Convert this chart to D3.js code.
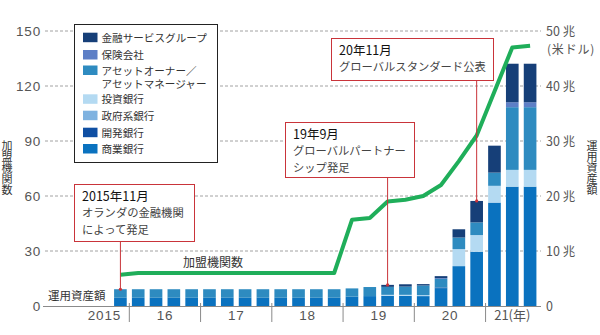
<!DOCTYPE html>
<html lang="ja">
<head>
<meta charset="UTF-8">
<title>加盟機関数と運用資産額</title>
<script src="https://cdnjs.cloudflare.com/ajax/libs/d3/7.8.5/d3.min.js"></script>
<style>
	body { margin: 0; background: #fff; }
	text { font-family: "Noto Sans CJK JP", "Noto Sans", sans-serif; }
	.num { font-family: "Liberation Sans", Arial, sans-serif; letter-spacing: 0.8px; }
	.vert { writing-mode: vertical-rl; }
</style>
</head>
<body>
<svg id="chart" width="600" height="335"></svg>
<script>
// quarters, 2015Q4 .. 2021Q3
var quarters = ["15Q4",
	"16Q1", "16Q2", "16Q3", "16Q4",
	"17Q1", "17Q2", "17Q3", "17Q4",
	"18Q1", "18Q2", "18Q3", "18Q4",
	"19Q1", "19Q2", "19Q3", "19Q4",
	"20Q1", "20Q2", "20Q3", "20Q4",
	"21Q1", "21Q2", "21Q3"];

// 運用資産額 (兆米ドル), by segment
var commercial  = [1.5, 1.5, 1.5, 1.5, 1.5, 1.5, 1.5, 1.5, 1.5, 1.5, 1.5, 1.5, 1.5, 1.7, 1.8, 1.85, 1.85, 1.8, 3.25, 7.25, 9.85, 18.8, 21.7, 21.7];
var development = [0, 0, 0, 0, 0, 0, 0, 0, 0, 0, 0, 0, 0, 0, 0, 0, 0, 0, 0.12, 0, 0, 0, 0, 0];
var government  = [0, 0, 0, 0, 0, 0, 0, 0, 0, 0, 0, 0, 0, 0, 0, 0, 0, 0, 0, 0, 0, 0, 0, 0];
var investment  = [0, 0, 0, 0, 0, 0, 0, 0, 0, 0, 0, 0, 0, 0, 0, 0.18, 0.18, 0.18, 0, 3.1, 3.05, 3.05, 3.05, 3.05];
var assetOwner  = [1.55, 1.55, 1.55, 1.55, 1.55, 1.55, 1.55, 1.55, 1.55, 1.55, 1.55, 1.55, 1.55, 1.5, 1.65, 1.45, 1.5, 1.75, 1.55, 2.1, 2.3, 2.4, 11.4, 11.4];
var insurance   = [0, 0, 0, 0, 0, 0, 0, 0, 0, 0, 0, 0, 0, 0, 0, 0, 0, 0, 0.15, 0, 0, 0, 0.9, 0.9];
var finGroup    = [0, 0, 0, 0, 0, 0, 0, 0, 0, 0, 0, 0, 0, 0, 0, 0.36, 0.42, 0.25, 0.36, 1.5, 3.9, 4.9, 7.0, 7.0];

// 加盟機関数
var members = [17, 18, 18, 18, 18, 18, 18, 18, 18, 18, 18, 18, 18, 47, 48, 57, 58, 60, 66, 79, 93, 117, 141, 142];

var segNames = ["商業銀行", "開発銀行", "政府系銀行", "投資銀行", "アセットオーナー／アセットマネージャー", "保険会社", "金融サービスグループ"];
var segColors = ["#0a72bf", "#0f4fa3", "#7fb2e0", "#b4daf2", "#2e8bc0", "#5d7fc6", "#163f78"];

var leftTicks = [30, 60, 90, 120, 150];
var rightTicks = [0, 10, 20, 30, 40, 50];
var yearLabels = ["2015", "16", "17", "18", "19", "20", "21(年)"];
var yearStart = ["15Q4", "16Q1", "17Q1", "18Q1", "19Q1", "20Q1", "21Q1"];
var yearEnd = ["15Q4", "16Q4", "17Q4", "18Q4", "19Q4", "20Q4", "21Q3"];

var notes = [
	{ q: "15Q4", lines: ["2015年11月", "オランダの金融機関", "によって発足"], box: [74, 184, 120, 57] },
	{ q: "19Q3", lines: ["19年9月", "グローバルパートナー", "シップ発足"], box: [285, 122, 129, 55] },
	{ q: "20Q4", lines: ["20年11月", "グローバルスタンダード公表"], box: [331, 38, 162, 42] }
];

var svg = d3.select("#chart");

var x = d3.scaleBand()
	.domain(quarters)
	.range([111.5, 539])
	.paddingInner(0.29)
	.paddingOuter(0.145);
var yL = d3.scaleLinear().domain([0, 150]).range([306, 31]);
var yR = d3.scaleLinear().domain([0, 50]).range([306, 31]);

// gridlines
svg.append("g")
	.selectAll("line")
	.data(leftTicks)
	.enter()
	.append("line")
	.attr("x1", 45).attr("x2", 541)
	.attr("y1", d => yL(d)).attr("y2", d => yL(d))
	.attr("stroke", "#8a8a8a")
	.attr("stroke-width", 0.8)
	.attr("stroke-dasharray", "3,2");

// left axis labels
var gl = svg.append("g")
	.attr("transform", "translate(41,0)")
	.call(d3.axisLeft(yL).tickValues([0].concat(leftTicks)).tickSize(0).tickPadding(0));
gl.select(".domain").remove();
gl.selectAll("text")
	.attr("class", "num")
	.attr("font-size", 13.5)
	.attr("fill", "#555")
	.attr("dy", "0.36em");

// right axis labels
var gr = svg.append("g")
	.attr("transform", "translate(546,0)")
	.call(d3.axisRight(yR).tickValues(rightTicks).tickSize(0).tickPadding(0)
		.tickFormat(d => d === 0 ? "0" : d + " 兆"));
gr.select(".domain").remove();
gr.selectAll("text")
	.attr("font-size", 12.5)
	.attr("fill", "#555")
	.attr("dy", "0.36em");
svg.append("text")
	.attr("x", 547).attr("y", 54)
	.attr("font-size", 12)
	.attr("letter-spacing", 0.8)
	.attr("fill", "#555")
	.text("(米ドル)");

// stacked bars
var table = quarters.map((q, i) => ({
	q: q,
	s0: commercial[i], s1: development[i], s2: government[i], s3: investment[i],
	s4: assetOwner[i], s5: insurance[i], s6: finGroup[i]
}));
var stack = d3.stack().keys(["s0", "s1", "s2", "s3", "s4", "s5", "s6"])(table);

svg.append("g")
	.selectAll("g")
	.data(stack)
	.enter()
	.append("g")
	.attr("fill", (d, i) => segColors[i])
	.selectAll("rect")
	.data(d => d)
	.enter()
	.append("rect")
	.attr("x", d => x(d.data.q))
	.attr("width", x.bandwidth())
	.attr("y", d => yR(d[1]))
	.attr("height", d => yR(d[0]) - yR(d[1]));

// baseline and year separators
svg.append("line")
	.attr("x1", 43).attr("x2", 541)
	.attr("y1", 306.5).attr("y2", 306.5)
	.attr("stroke", "#8a8a8a").attr("stroke-width", 1);

var step = x.step();
svg.append("g")
	.selectAll("line")
	.data(yearEnd.slice(0, 6))
	.enter()
	.append("line")
	.attr("x1", d => x(d) + x.bandwidth() + (step - x.bandwidth()) / 2)
	.attr("x2", d => x(d) + x.bandwidth() + (step - x.bandwidth()) / 2)
	.attr("y1", 303).attr("y2", 322)
	.attr("stroke", "#8a8a8a").attr("stroke-width", 1);

svg.append("g")
	.selectAll("text")
	.data(yearLabels)
	.enter()
	.append("text")
	.attr("class", (d, i) => i === 6 ? null : "num")
	.attr("x", (d, i) => i === 0 ? 121 : (x(yearStart[i]) + x(yearEnd[i]) + x.bandwidth()) / 2)
	.attr("y", 320)
	.attr("text-anchor", (d, i) => i === 0 ? "end" : "middle")
	.attr("font-size", (d, i) => i === 6 ? 13 : 13.5)
	.attr("fill", "#555")
	.text(d => d);

// member count line
var line = d3.line()
	.x((d, i) => x(quarters[i]) + x.bandwidth() / 2)
	.y(d => yL(d));
svg.append("path")
	.attr("d", line(members))
	.attr("fill", "none")
	.attr("stroke", "#1fae5a")
	.attr("stroke-width", 4)
	.attr("stroke-linejoin", "round");

svg.append("text")
	.attr("x", 213).attr("y", 267)
	.attr("text-anchor", "middle")
	.attr("font-size", 12)
	.attr("fill", "#333")
	.text("加盟機関数");

svg.append("text")
	.attr("x", 48).attr("y", 300)
	.attr("font-size", 11.5)
	.attr("fill", "#333")
	.text("運用資産額");

// legend
var lg = svg.append("g");
lg.append("rect")
	.attr("x", 74.5).attr("y", 24.5)
	.attr("width", 143).attr("height", 138)
	.attr("fill", "#fff").attr("stroke", "#222").attr("stroke-width", 1);
var legendRows = [
	{ i: 6, y: 37.7, lines: ["金融サービスグループ"] },
	{ i: 5, y: 55, lines: ["保険会社"] },
	{ i: 4, y: 70.5, lines: ["アセットオーナー／", "アセットマネージャー"] },
	{ i: 3, y: 99.3, lines: ["投資銀行"] },
	{ i: 2, y: 115.7, lines: ["政府系銀行"] },
	{ i: 1, y: 132.7, lines: ["開発銀行"] },
	{ i: 0, y: 149, lines: ["商業銀行"] }
];
var rows = lg.selectAll("g.row")
	.data(legendRows)
	.enter()
	.append("g")
	.attr("class", "row");
rows.append("rect")
	.attr("x", 83).attr("y", d => d.y - 5)
	.attr("width", 14.5).attr("height", 9.5)
	.attr("fill", d => segColors[d.i]);
rows.selectAll("text")
	.data(d => d.lines.map((t, k) => ({ t: t, y: d.y + 4 + k * 13.2 })))
	.enter()
	.append("text")
	.attr("x", 101.5)
	.attr("y", d => d.y)
	.attr("font-size", 10.6)
	.attr("fill", "#333")
	.text(d => d.t);

// annotations
var ng = svg.append("g")
	.selectAll("g")
	.data(notes)
	.enter()
	.append("g");
ng.append("line")
	.attr("x1", d => x(d.q) + x.bandwidth() / 2)
	.attr("x2", d => x(d.q) + x.bandwidth() / 2)
	.attr("y1", d => d.box[1] + d.box[3])
	.attr("y2", d => {
		var i = quarters.indexOf(d.q);
		return yR(stack[6][i][1]);
	})
	.attr("stroke", "#c9343a").attr("stroke-width", 1);
ng.append("circle")
	.attr("cx", d => x(d.q) + x.bandwidth() / 2)
	.attr("cy", d => yR(stack[6][quarters.indexOf(d.q)][1]))
	.attr("r", 1.6)
	.attr("fill", "#c9343a");
ng.append("rect")
	.attr("x", d => d.box[0] + 0.5).attr("y", d => d.box[1] + 0.5)
	.attr("width", d => d.box[2]).attr("height", d => d.box[3])
	.attr("fill", "#fff").attr("stroke", "#c9343a").attr("stroke-width", 1);
ng.append("text")
	.selectAll("tspan")
	.data(d => d.lines.map((t, k) => ({ t: t, k: k, b: d.box })))
	.enter()
	.append("tspan")
	.attr("x", d => d.b[0] + 8)
	.attr("y", d => d.b[1] + 17 + d.k * 16.3)
	.attr("font-size", d => d.k === 0 ? 12.5 : 11.3)
	.attr("fill", d => d.k === 0 ? "#111" : "#444")
	.text(d => d.t);

// vertical axis titles
[["加盟機関数", 7], ["運用資産額", 592]].forEach(function (a) {
	svg.append("text")
		.attr("class", "vert")
		.attr("x", a[1])
		.attr("y", 140)
		.attr("font-size", 11)
		.attr("fill", "#333")
		.text(a[0]);
});
</script>
</body>
</html>
